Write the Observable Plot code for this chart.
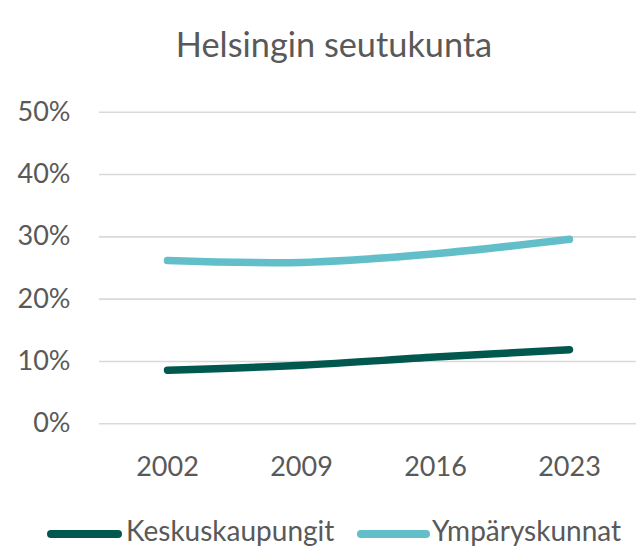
<!DOCTYPE html>
<html><head><meta charset="utf-8">
<script src="https://cdn.jsdelivr.net/npm/d3@7"></script>
<script src="https://cdn.jsdelivr.net/npm/@observablehq/plot@0.6"></script>
<style>
html,body{margin:0;padding:0;background:#fff;}
#wrap{position:relative;width:636px;height:550px;overflow:hidden;}
#wrap svg{position:absolute;left:0;top:0;}
</style>
</head><body>
<div id="wrap"></div>
<script>
const title = "Helsingin seutukunta";
const years = ["2002", "2009", "2016", "2023"];
const seriesNames = ["Keskuskaupungit", "Ympäryskunnat"];
const keskuskaupungit = [0.086, 0.094, 0.107, 0.119];
const ymparyskunnat = [0.262, 0.259, 0.273, 0.296];
const yTicks = [0, 0.1, 0.2, 0.3, 0.4, 0.5];
const colors = ["#00584f", "#62bfca"];

const data = [];
years.forEach((y, i) => {
  data.push({year: y, series: seriesNames[0], value: keskuskaupungit[i]});
  data.push({year: y, series: seriesNames[1], value: ymparyskunnat[i]});
});

const font = "Lato, 'Open Sans', sans-serif";
const grey = "#595959";

const chart = Plot.plot({
  width: 636,
  height: 550,
  marginTop: 111.7,
  marginBottom: 126.7,
  marginLeft: 99,
  marginRight: 0,
  style: {fontFamily: font, fontSize: "27px", color: grey, background: "transparent"},
  x: {type: "point", domain: years, range: [165.5, 570], padding: 0},
  y: {domain: [0, 0.5]},
  color: {domain: seriesNames, range: colors},
  marks: [
    Plot.ruleY(yTicks, {stroke: "#d9d9d9", strokeWidth: 1.6}),
    Plot.axisY(yTicks, {tickSize: 0, tickPadding: 29, tickFormat: d3.format(".0%"), label: null, fill: grey}),
    Plot.axisX({tickSize: 0, tickPadding: 33, label: null, fill: grey}),
    Plot.line(data, {x: "year", y: "value", z: "series", stroke: "series", strokeWidth: 7.5, curve: "catmull-rom", strokeLinecap: "round", strokeLinejoin: "round"})
  ]
});
document.getElementById("wrap").appendChild(chart);

// Title and legend overlay
const ov = d3.select("#wrap").append("svg")
  .attr("width", 636).attr("height", 550)
  .style("pointer-events", "none")
  .style("font-family", font);
ov.append("text").attr("x", 334).attr("y", 57).attr("text-anchor", "middle")
  .attr("fill", grey).style("font-size", "34.3px").text(title);

const leg = [
  {name: seriesNames[0], color: colors[0], x1: 51, x2: 118, tx: 126},
  {name: seriesNames[1], color: colors[1], x1: 361, x2: 426, tx: 432}
];
leg.forEach(l => {
  ov.append("line").attr("x1", l.x1).attr("x2", l.x2).attr("y1", 534).attr("y2", 534)
    .attr("stroke", l.color).attr("stroke-width", 8).attr("stroke-linecap", "round");
  ov.append("text").attr("x", l.tx).attr("y", 541).attr("fill", grey)
    .style("font-size", "28px").text(l.name);
});
</script>
</body></html>
